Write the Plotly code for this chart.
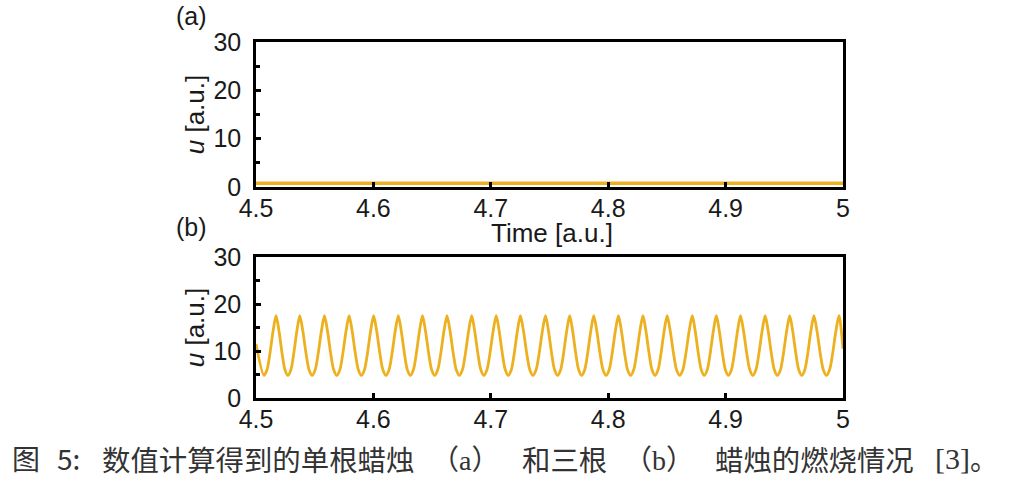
import plotly.graph_objects as go

W, H = 1015, 481

# Panel (a): single candle, steady low value
time_a = [4.5, 5.0]
u_a = [0.8, 0.8]

# Panel (b): three candles, oscillation
trough_t = [4.5068, 4.5272, 4.5478, 4.5688, 4.5898, 4.6107, 4.6315, 4.6522,
            4.6732, 4.6941, 4.7149, 4.7359, 4.7569, 4.7774, 4.7982, 4.8191,
            4.8399, 4.8609, 4.8818, 4.9024, 4.9232, 4.9441, 4.9649, 4.9859]
peak_t = [4.5171, 4.5373, 4.5583, 4.5793, 4.6002, 4.6212, 4.6418, 4.6627,
          4.6837, 4.7046, 4.7252, 4.7466, 4.7672, 4.7877, 4.8087, 4.8296,
          4.8502, 4.8716, 4.8921, 4.9127, 4.9337, 4.9546, 4.9752, 4.9966]
peak_u = 17.5
trough_u = 4.8
# values read between a trough and the next peak (at 1/4, 1/2, 3/4 of the way)
flank_frac = [0.25, 0.5, 0.75]
flank_u = [6.0, 9.6, 14.2]
start_t, start_u = 4.5, 11.5
end_t, end_u = 5.0, 10.5

y_ticks = [0, 10, 20, 30]
x_ticks = [4.5, 4.6, 4.7, 4.8, 4.9, 5.0]
x_ticklabels = ["4.5", "4.6", "4.7", "4.8", "4.9", "5"]

# assemble panel (b) series from the read-off points
time_b = [start_t]
u_b = [start_u]
for i, (tr, pk) in enumerate(zip(trough_t, peak_t)):
    time_b.append(tr)
    u_b.append(trough_u)
    for f, v in zip(flank_frac, flank_u):
        time_b.append(tr + f * (pk - tr))
        u_b.append(v)
    time_b.append(pk)
    u_b.append(peak_u)
    if i + 1 < len(trough_t):
        nxt = trough_t[i + 1]
        for f, v in zip(flank_frac, flank_u[::-1]):
            time_b.append(pk + f * (nxt - pk))
            u_b.append(v)
time_b.append(end_t)
u_b.append(end_u)

LINE = "#EDB120"
FONT = "Liberation Sans, Arial, sans-serif"
CJK = "Noto Sans CJK SC, sans-serif"
SERIF = "Liberation Serif, serif"
TXT = "#1a1a1a"
CAP = "#333333"

fig = go.Figure()
fig.add_trace(go.Scatter(x=time_a, y=u_a, mode="lines",
                         line=dict(color=LINE, width=3.5), xaxis="x", yaxis="y",
                         showlegend=False))
fig.add_trace(go.Scatter(x=time_b, y=u_b, mode="lines",
                         line=dict(color=LINE, width=2.8, shape="spline", smoothing=0.8),
                         xaxis="x2", yaxis="y2", showlegend=False))

def px(x):
    return x / W

def py(y):
    return 1 - y / H

axis_common = dict(showgrid=False, zeroline=False, showline=True, linecolor="black",
                   linewidth=2.5, mirror=True, ticks="inside", ticklen=5, tickwidth=2.5,
                   tickcolor="black", automargin=False,
                   tickfont=dict(family=FONT, size=25, color=TXT))

xa = dict(axis_common, range=[4.5, 5.0], tickvals=x_ticks, ticktext=x_ticklabels,
          domain=[px(256), px(843)], ticklabelstandoff=-3)
ya_minor = dict(ticks="inside", ticklen=4, tickwidth=2.5, tickcolor="black", dtick=5, showgrid=False)
ytitle = dict(text="<i>u</i> [a.u.]", font=dict(family=FONT, size=26, color=TXT), standoff=2)

def note(text, x, y, font, size, color, anchor="left"):
    return dict(text=text, x=px(x), y=py(y), xref="paper", yref="paper",
                xanchor=anchor, yanchor="middle", showarrow=False,
                font=dict(family=font, size=size, color=color))

fig.update_layout(
    width=W, height=H,
    margin=dict(l=0, r=0, t=0, b=0, autoexpand=False),
    paper_bgcolor="white", plot_bgcolor="white",
    xaxis=dict(xa, anchor="y"),
    yaxis=dict(axis_common, range=[0, 30], tickvals=y_ticks, anchor="x",
               domain=[py(187), py(42)], minor=ya_minor, ticklabelstandoff=7, title=ytitle),
    xaxis2=dict(xa, anchor="y2"),
    yaxis2=dict(axis_common, range=[0, 30], tickvals=y_ticks, anchor="x2",
                domain=[py(398), py(257)], minor=ya_minor, ticklabelstandoff=7, title=ytitle),
    annotations=[
        note("(a)", 174, 16, FONT, 25, TXT),
        note("(b)", 174, 227, FONT, 25, TXT),
        note("Time [a.u.]", 552, 233, FONT, 26, TXT, "center"),
        note("图", 10, 458, CJK, 28, CAP),
        note("5:", 55, 458, CJK, 28, CAP),
        note("数值计算得到的单根蜡烛", 100, 458, CJK, 28.4, CAP),
        note("（<span style='font-family:Liberation Serif'>a</span>）", 465, 458, CJK, 28, CAP, "center"),
        note("和三根", 520, 458, CJK, 28.4, CAP),
        note("（<span style='font-family:Liberation Serif'>b</span>）", 659, 458, CJK, 28, CAP, "center"),
        note("蜡烛的燃烧情况", 713, 458, CJK, 28.4, CAP),
        note("[3]", 933, 458, SERIF, 30, CAP),
        note("。", 968, 458, CJK, 28, CAP),
    ],
)

fig.write_html("out.html", config={"displayModeBar": False},
               post_script="document.body.style.margin='0px';")
